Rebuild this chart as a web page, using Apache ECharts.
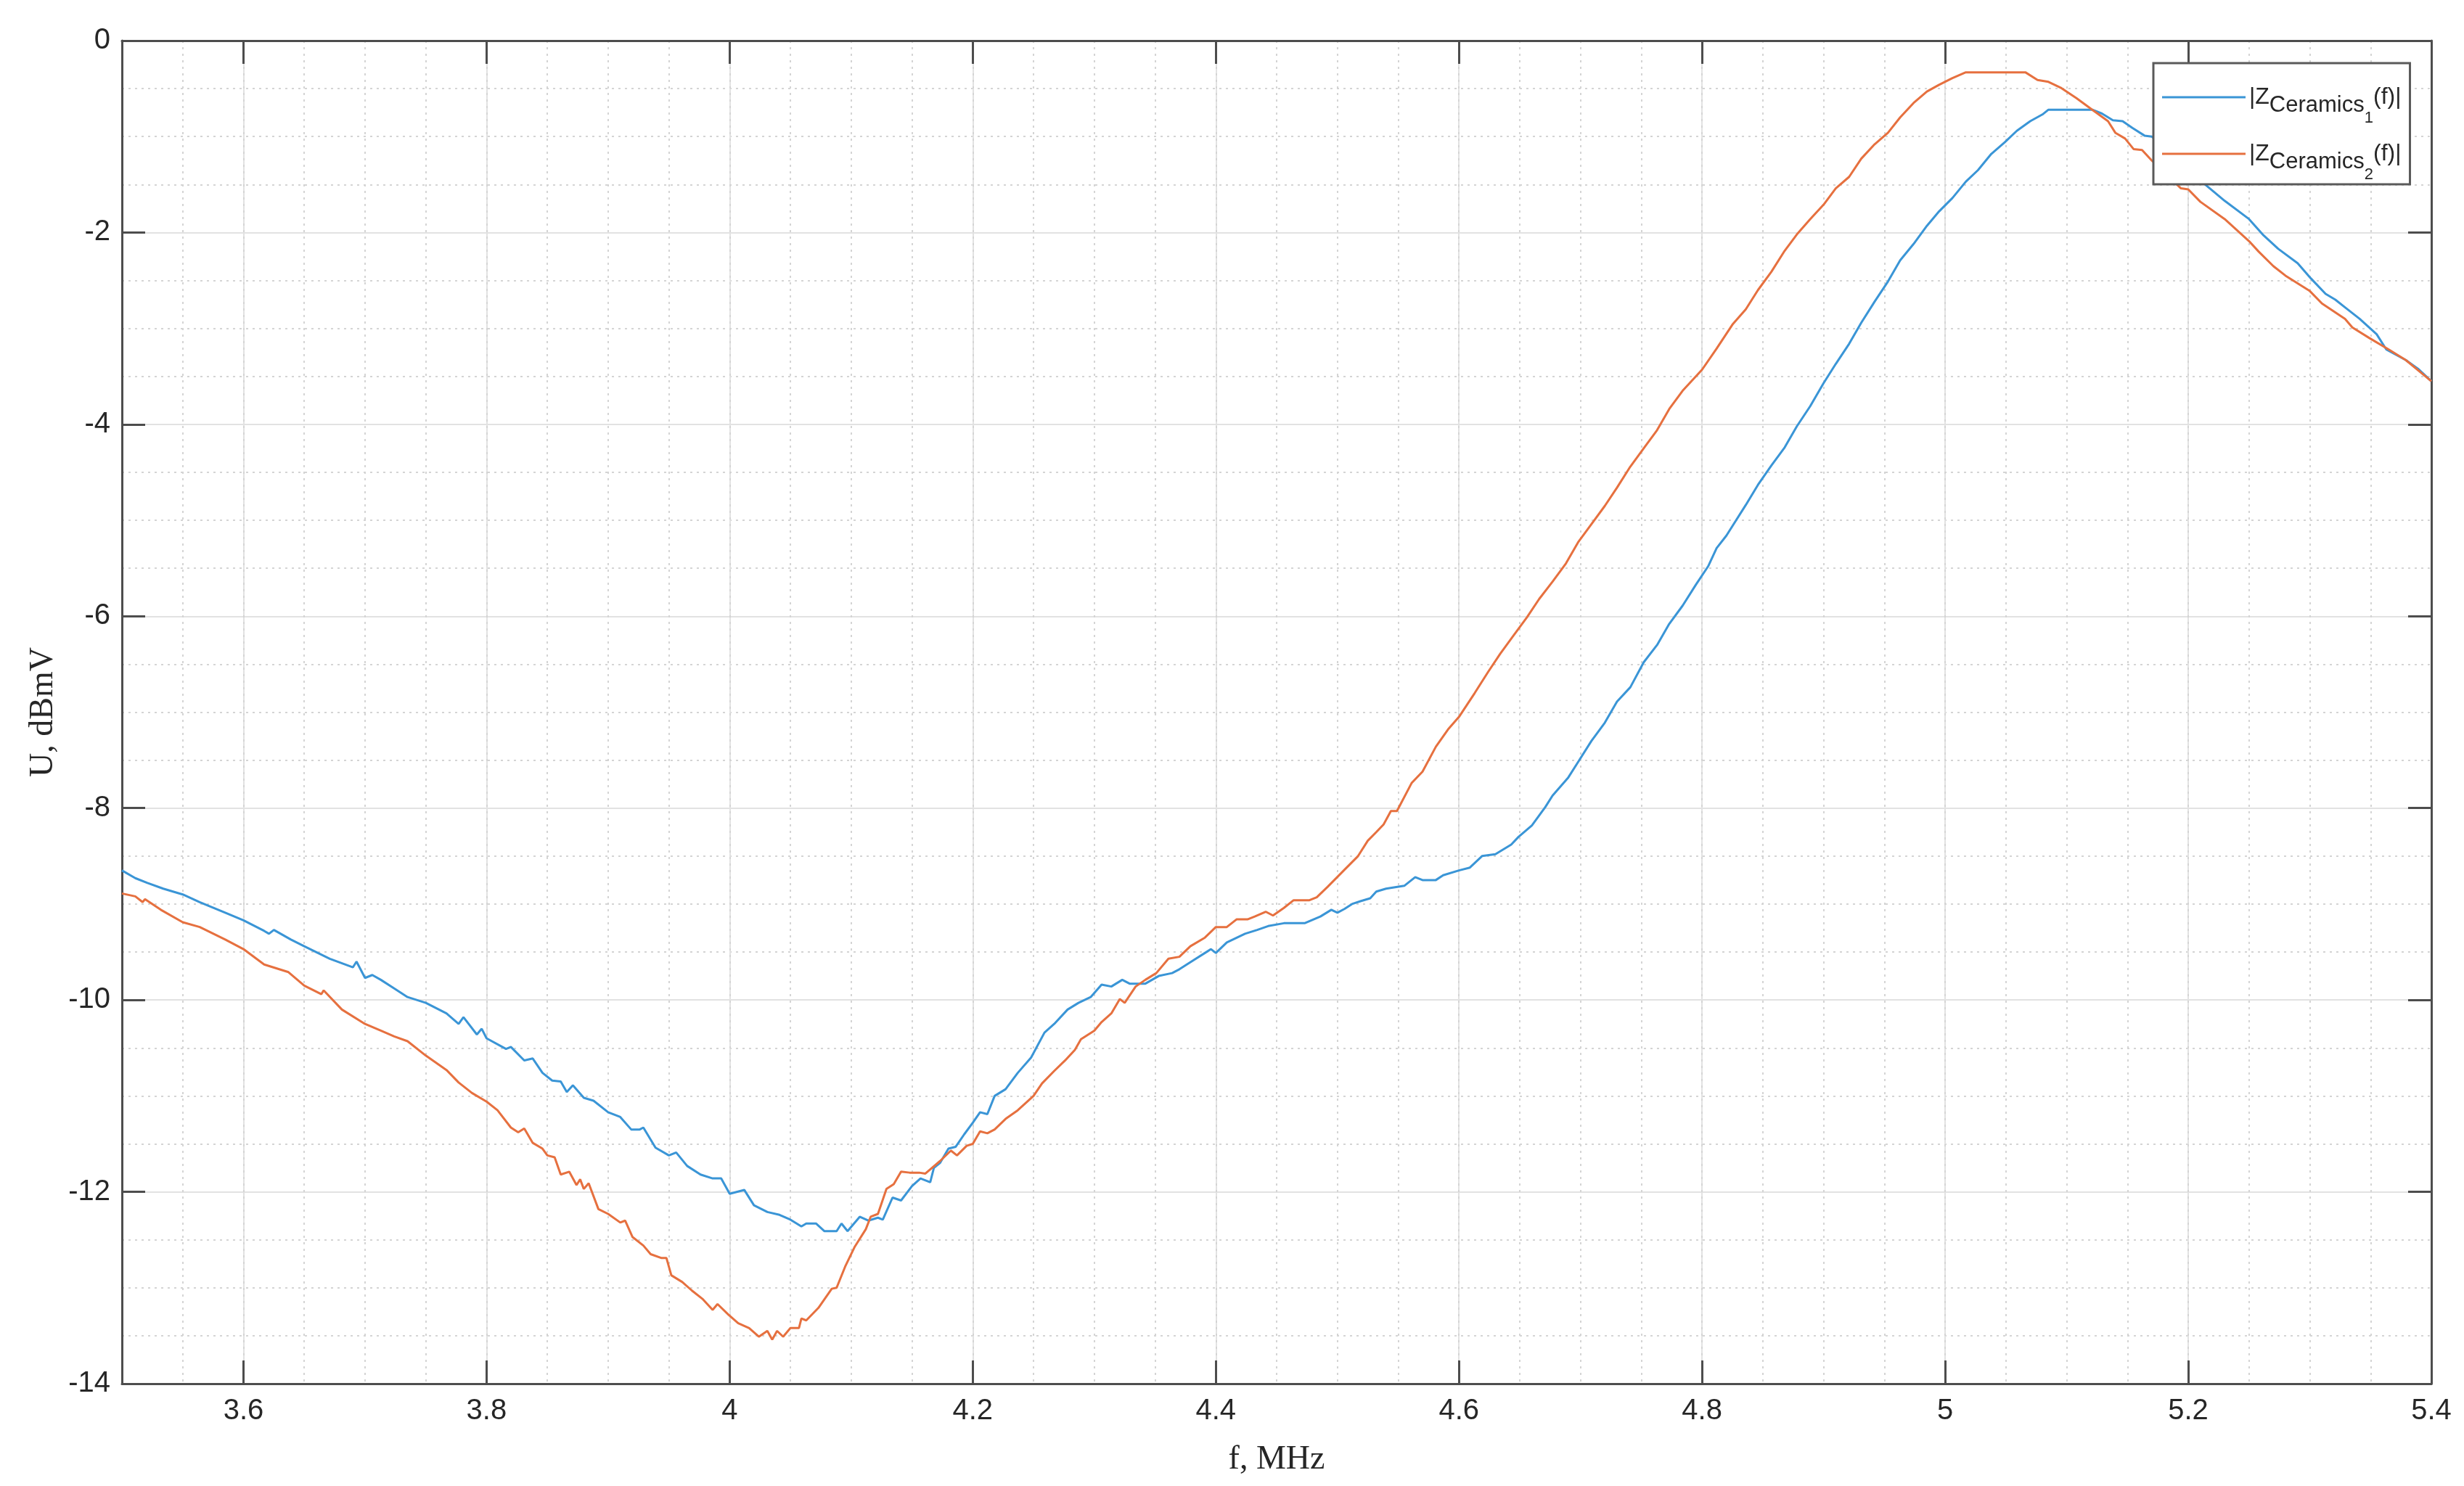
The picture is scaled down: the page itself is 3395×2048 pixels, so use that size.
<!DOCTYPE html>
<html>
<head>
<meta charset="utf-8">
<title>|Z(f)| ceramics</title>
<script src="https://cdn.jsdelivr.net/npm/echarts@6/dist/echarts.min.js"></script>
<style>
  html, body { margin: 0; padding: 0; background: #fff; }
  #main { width: 3395px; height: 2048px; }
</style>
</head>
<body>
<div id="main"></div>
<script>
// values: f in MHz, U in dBmV
var freq1 = [3.500, 3.511, 3.521, 3.534, 3.550, 3.564, 3.585, 3.600, 3.617, 3.621, 3.625, 3.639, 3.650, 3.671, 3.690, 3.693, 3.700, 3.706, 3.713, 3.724,
  3.735, 3.750, 3.767, 3.777, 3.781, 3.792, 3.796, 3.800, 3.816, 3.820, 3.831, 3.838, 3.846, 3.854, 3.861, 3.866, 3.871, 3.880, 3.888, 3.900,
  3.910, 3.919, 3.926, 3.929, 3.939, 3.950, 3.956, 3.965, 3.976, 3.986, 3.993, 4.000, 4.012, 4.020, 4.031, 4.041, 4.050, 4.059, 4.063, 4.071,
  4.078, 4.088, 4.092, 4.097, 4.107, 4.114, 4.122, 4.126, 4.134, 4.141, 4.150, 4.157, 4.165, 4.168, 4.173, 4.180, 4.186, 4.193, 4.200, 4.206,
  4.212, 4.218, 4.227, 4.237, 4.248, 4.259, 4.267, 4.278, 4.287, 4.297, 4.306, 4.314, 4.323, 4.329, 4.342, 4.353, 4.364, 4.370, 4.381, 4.391,
  4.396, 4.400, 4.409, 4.424, 4.434, 4.443, 4.456, 4.473, 4.486, 4.495, 4.500, 4.506, 4.512, 4.519, 4.527, 4.532, 4.540, 4.555, 4.564, 4.570,
  4.581, 4.587, 4.600, 4.609, 4.619, 4.630, 4.643, 4.649, 4.660, 4.671, 4.677, 4.690, 4.698, 4.709, 4.720, 4.730, 4.741, 4.752, 4.763, 4.773,
  4.784, 4.795, 4.805, 4.812, 4.820, 4.825, 4.836, 4.846, 4.857, 4.868, 4.878, 4.889, 4.900, 4.910, 4.921, 4.931, 4.942, 4.953, 4.963, 4.974,
  4.985, 4.995, 5.006, 5.017, 5.027, 5.038, 5.049, 5.059, 5.070, 5.080, 5.085, 5.121, 5.129, 5.138, 5.146, 5.154, 5.164, 5.170, 5.212, 5.230,
  5.250, 5.262, 5.274, 5.290, 5.301, 5.313, 5.321, 5.329, 5.341, 5.355, 5.363, 5.379, 5.389, 5.400];
var u1 = [-8.65, -8.73, -8.78, -8.84, -8.90, -8.98, -9.09, -9.17, -9.28, -9.31, -9.27, -9.37, -9.44, -9.57, -9.66, -9.60, -9.77, -9.74, -9.79, -9.88,
  -9.97, -10.03, -10.14, -10.25, -10.18, -10.36, -10.30, -10.40, -10.51, -10.49, -10.63, -10.61, -10.76, -10.84, -10.85, -10.96, -10.89, -11.02, -11.05, -11.17,
  -11.22, -11.35, -11.35, -11.33, -11.54, -11.62, -11.59, -11.73, -11.82, -11.86, -11.86, -12.02, -11.98, -12.14, -12.21, -12.24, -12.29, -12.36, -12.33, -12.33,
  -12.41, -12.41, -12.33, -12.41, -12.26, -12.30, -12.27, -12.29, -12.06, -12.09, -11.94, -11.86, -11.90, -11.75, -11.70, -11.55, -11.53, -11.40, -11.28, -11.17,
  -11.19, -11.00, -10.93, -10.76, -10.60, -10.34, -10.25, -10.10, -10.03, -9.97, -9.84, -9.86, -9.79, -9.83, -9.83, -9.75, -9.72, -9.68, -9.59, -9.51,
  -9.47, -9.51, -9.40, -9.31, -9.27, -9.23, -9.20, -9.20, -9.13, -9.06, -9.09, -9.05, -9.00, -8.97, -8.94, -8.87, -8.84, -8.81, -8.72, -8.75,
  -8.75, -8.70, -8.65, -8.62, -8.50, -8.48, -8.38, -8.30, -8.18, -7.99, -7.87, -7.68, -7.52, -7.30, -7.11, -6.89, -6.74, -6.48, -6.30, -6.08,
  -5.89, -5.67, -5.48, -5.29, -5.16, -5.06, -4.84, -4.63, -4.43, -4.24, -4.02, -3.81, -3.57, -3.37, -3.16, -2.94, -2.72, -2.51, -2.29, -2.12,
  -1.93, -1.78, -1.64, -1.47, -1.35, -1.18, -1.06, -0.94, -0.84, -0.77, -0.72, -0.72, -0.76, -0.83, -0.84, -0.91, -0.99, -1.00, -1.48, -1.67,
  -1.86, -2.03, -2.17, -2.32, -2.48, -2.64, -2.70, -2.78, -2.90, -3.06, -3.22, -3.33, -3.42, -3.55];

var freq2 = [3.500, 3.511, 3.517, 3.519, 3.532, 3.550, 3.564, 3.585, 3.600, 3.617, 3.637, 3.650, 3.664, 3.666, 3.681, 3.700, 3.713, 3.724, 3.735, 3.750,
  3.767, 3.777, 3.788, 3.800, 3.809, 3.820, 3.826, 3.831, 3.838, 3.846, 3.850, 3.856, 3.861, 3.868, 3.874, 3.877, 3.880, 3.884, 3.892, 3.900,
  3.910, 3.914, 3.920, 3.929, 3.935, 3.944, 3.948, 3.952, 3.961, 3.969, 3.978, 3.986, 3.990, 3.999, 4.007, 4.016, 4.024, 4.031, 4.035, 4.039,
  4.044, 4.050, 4.057, 4.059, 4.063, 4.073, 4.084, 4.088, 4.095, 4.103, 4.112, 4.116, 4.122, 4.129, 4.135, 4.141, 4.148, 4.156, 4.161, 4.173,
  4.182, 4.187, 4.195, 4.200, 4.206, 4.212, 4.218, 4.227, 4.237, 4.250, 4.257, 4.267, 4.276, 4.284, 4.289, 4.300, 4.306, 4.314, 4.321, 4.325,
  4.334, 4.342, 4.351, 4.361, 4.370, 4.379, 4.391, 4.400, 4.409, 4.417, 4.426, 4.432, 4.441, 4.447, 4.456, 4.464, 4.477, 4.483, 4.492, 4.506,
  4.517, 4.525, 4.532, 4.538, 4.544, 4.549, 4.561, 4.570, 4.581, 4.591, 4.600, 4.613, 4.624, 4.634, 4.645, 4.656, 4.666, 4.677, 4.688, 4.698,
  4.709, 4.720, 4.730, 4.741, 4.752, 4.763, 4.773, 4.784, 4.800, 4.812, 4.825, 4.836, 4.846, 4.857, 4.868, 4.878, 4.889, 4.900, 4.910, 4.921,
  4.931, 4.942, 4.953, 4.963, 4.974, 4.985, 4.995, 5.006, 5.017, 5.066, 5.076, 5.085, 5.095, 5.108, 5.121, 5.134, 5.140, 5.148, 5.155, 5.162,
  5.170, 5.194, 5.200, 5.210, 5.230, 5.250, 5.258, 5.270, 5.280, 5.300, 5.310, 5.329, 5.335, 5.349, 5.365, 5.379, 5.400];
var u2 = [-8.89, -8.92, -8.98, -8.95, -9.06, -9.19, -9.24, -9.37, -9.47, -9.63, -9.71, -9.85, -9.94, -9.90, -10.10, -10.25, -10.32, -10.38, -10.43, -10.58,
  -10.73, -10.86, -10.97, -11.06, -11.15, -11.33, -11.38, -11.34, -11.49, -11.55, -11.62, -11.64, -11.82, -11.79, -11.93, -11.87, -11.97, -11.91, -12.18, -12.23,
  -12.32, -12.30, -12.47, -12.56, -12.65, -12.69, -12.69, -12.87, -12.94, -13.03, -13.12, -13.23, -13.17, -13.28, -13.37, -13.42, -13.51, -13.45, -13.54, -13.45,
  -13.51, -13.42, -13.42, -13.32, -13.34, -13.21, -13.01, -13.00, -12.78, -12.57, -12.39, -12.26, -12.23, -11.97, -11.92, -11.79, -11.80, -11.80, -11.81, -11.68,
  -11.57, -11.62, -11.52, -11.50, -11.37, -11.39, -11.35, -11.24, -11.15, -11.00, -10.87, -10.74, -10.63, -10.52, -10.41, -10.32, -10.23, -10.14, -9.99, -10.03,
  -9.86, -9.79, -9.72, -9.57, -9.55, -9.44, -9.35, -9.24, -9.24, -9.16, -9.16, -9.13, -9.08, -9.12, -9.04, -8.96, -8.96, -8.93, -8.82, -8.64,
  -8.50, -8.34, -8.25, -8.17, -8.03, -8.03, -7.74, -7.62, -7.36, -7.18, -7.05, -6.80, -6.58, -6.39, -6.20, -6.01, -5.82, -5.64, -5.45, -5.23,
  -5.04, -4.85, -4.66, -4.44, -4.25, -4.06, -3.84, -3.65, -3.43, -3.21, -2.96, -2.80, -2.60, -2.41, -2.19, -2.02, -1.86, -1.71, -1.54, -1.42,
  -1.23, -1.08, -0.96, -0.80, -0.65, -0.53, -0.46, -0.39, -0.33, -0.33, -0.41, -0.43, -0.49, -0.60, -0.72, -0.84, -0.96, -1.02, -1.13, -1.14,
  -1.25, -1.54, -1.55, -1.68, -1.86, -2.09, -2.20, -2.35, -2.45, -2.61, -2.74, -2.90, -2.99, -3.10, -3.22, -3.33, -3.55];

var seriesNames = ['Z_Ceramics_1', 'Z_Ceramics_2'];
var legendText = [
  '{m||Z}{s|Ceramics}{ss|1}{m|(f)|}',
  '{m||Z}{s|Ceramics}{ss|2}{m|(f)|}'
];
var seriesColors = ['#3a95d6', '#e6703f'];
var xRange = [3.5, 5.4];
var yRange = [-14, 0];

var myChart = echarts.init(document.getElementById('main'));

var axisColor = '#4d4d4d';
var tickFont = { color: '#262626', fontSize: 40, fontFamily: 'Liberation Sans, Arial, sans-serif' };
var nameFont = { color: '#262626', fontSize: 46, fontFamily: 'Liberation Serif, Times New Roman, serif' };
var majorGrid = { color: '#e2e2e2', width: 2 };
var minorGrid = { color: '#d4d4d4', width: 2, type: [3, 6] };
var boxLine = { show: true, onZero: false, lineStyle: { color: axisColor, width: 3 } };
var boxTick = { show: true, inside: true, length: 32, lineStyle: { color: axisColor, width: 3 } };

function pairs(fs, us) {
  return fs.map(function (f, i) { return [f, us[i]]; });
}

var option = {
  backgroundColor: '#fff',
  animation: false,
  grid: { left: 168, right: 45, top: 56, bottom: 141, containLabel: false },
  legend: {
    data: seriesNames,
    orient: 'vertical',
    left: 2967,
    top: 87,
    padding: [31, 12, 2, 12],
    itemGap: 22,
    itemWidth: 115,
    itemHeight: 3,
    icon: 'rect',
    backgroundColor: '#fff',
    borderColor: '#5a5a5a',
    borderWidth: 3,
    borderRadius: 0,
    formatter: function (name) {
      return legendText[seriesNames.indexOf(name)];
    },
    textStyle: {
      color: '#262626',
      fontFamily: 'Liberation Sans, Arial, sans-serif',
      rich: {
        // baseline shifts for Z_{Ceramics_1}
        m: { fontSize: 32, verticalAlign: 'bottom', padding: [0, 0, 24, 0] },
        s: { fontSize: 31, verticalAlign: 'bottom', padding: [0, 0, 13, 0] },
        ss: { fontSize: 22, verticalAlign: 'bottom', padding: [58, 0, 0, 0] }
      }
    }
  },
  xAxis: [
    {
      type: 'value',
      position: 'bottom',
      min: xRange[0],
      max: xRange[1],
      splitNumber: 10,
      name: 'f, MHz',
      nameLocation: 'middle',
      nameGap: 82,
      nameTextStyle: nameFont,
      axisLine: boxLine,
      axisTick: boxTick,
      axisLabel: Object.assign({ margin: 18, showMinLabel: false }, tickFont),
      splitLine: { show: true, lineStyle: majorGrid }
    },
    {
      type: 'value',
      position: 'top',
      min: xRange[0],
      max: xRange[1],
      splitNumber: 10,
      axisLine: boxLine,
      axisTick: boxTick,
      axisLabel: { show: false },
      splitLine: { show: false }
    },
    {
      // dotted minor grid every 0.05 MHz
      type: 'value',
      position: 'bottom',
      min: xRange[0],
      max: xRange[1],
      interval: 0.05,
      axisLine: { show: false, onZero: false },
      axisTick: { show: false },
      axisLabel: { show: false },
      splitLine: { show: true, lineStyle: minorGrid }
    }
  ],
  yAxis: [
    {
      type: 'value',
      position: 'left',
      min: yRange[0],
      max: yRange[1],
      interval: 2,
      name: 'U, dBmV',
      nameLocation: 'middle',
      nameGap: 84,
      nameTextStyle: nameFont,
      axisLine: boxLine,
      axisTick: boxTick,
      axisLabel: Object.assign({ margin: 16 }, tickFont),
      splitLine: { show: true, lineStyle: majorGrid },
      minorTick: { show: false, splitNumber: 4 },
      minorSplitLine: { show: true, lineStyle: minorGrid }
    },
    {
      type: 'value',
      position: 'right',
      min: yRange[0],
      max: yRange[1],
      interval: 2,
      axisLine: boxLine,
      axisTick: boxTick,
      axisLabel: { show: false },
      splitLine: { show: false }
    }
  ],
  series: [
    {
      name: seriesNames[0],
      type: 'line',
      xAxisIndex: 0,
      yAxisIndex: 0,
      symbol: 'none',
      showSymbol: false,
      lineStyle: { color: seriesColors[0], width: 3 },
      itemStyle: { color: seriesColors[0] },
      data: pairs(freq1, u1)
    },
    {
      name: seriesNames[1],
      type: 'line',
      xAxisIndex: 0,
      yAxisIndex: 0,
      symbol: 'none',
      showSymbol: false,
      lineStyle: { color: seriesColors[1], width: 3 },
      itemStyle: { color: seriesColors[1] },
      data: pairs(freq2, u2)
    }
  ]
};

myChart.setOption(option);
</script>
</body>
</html>
